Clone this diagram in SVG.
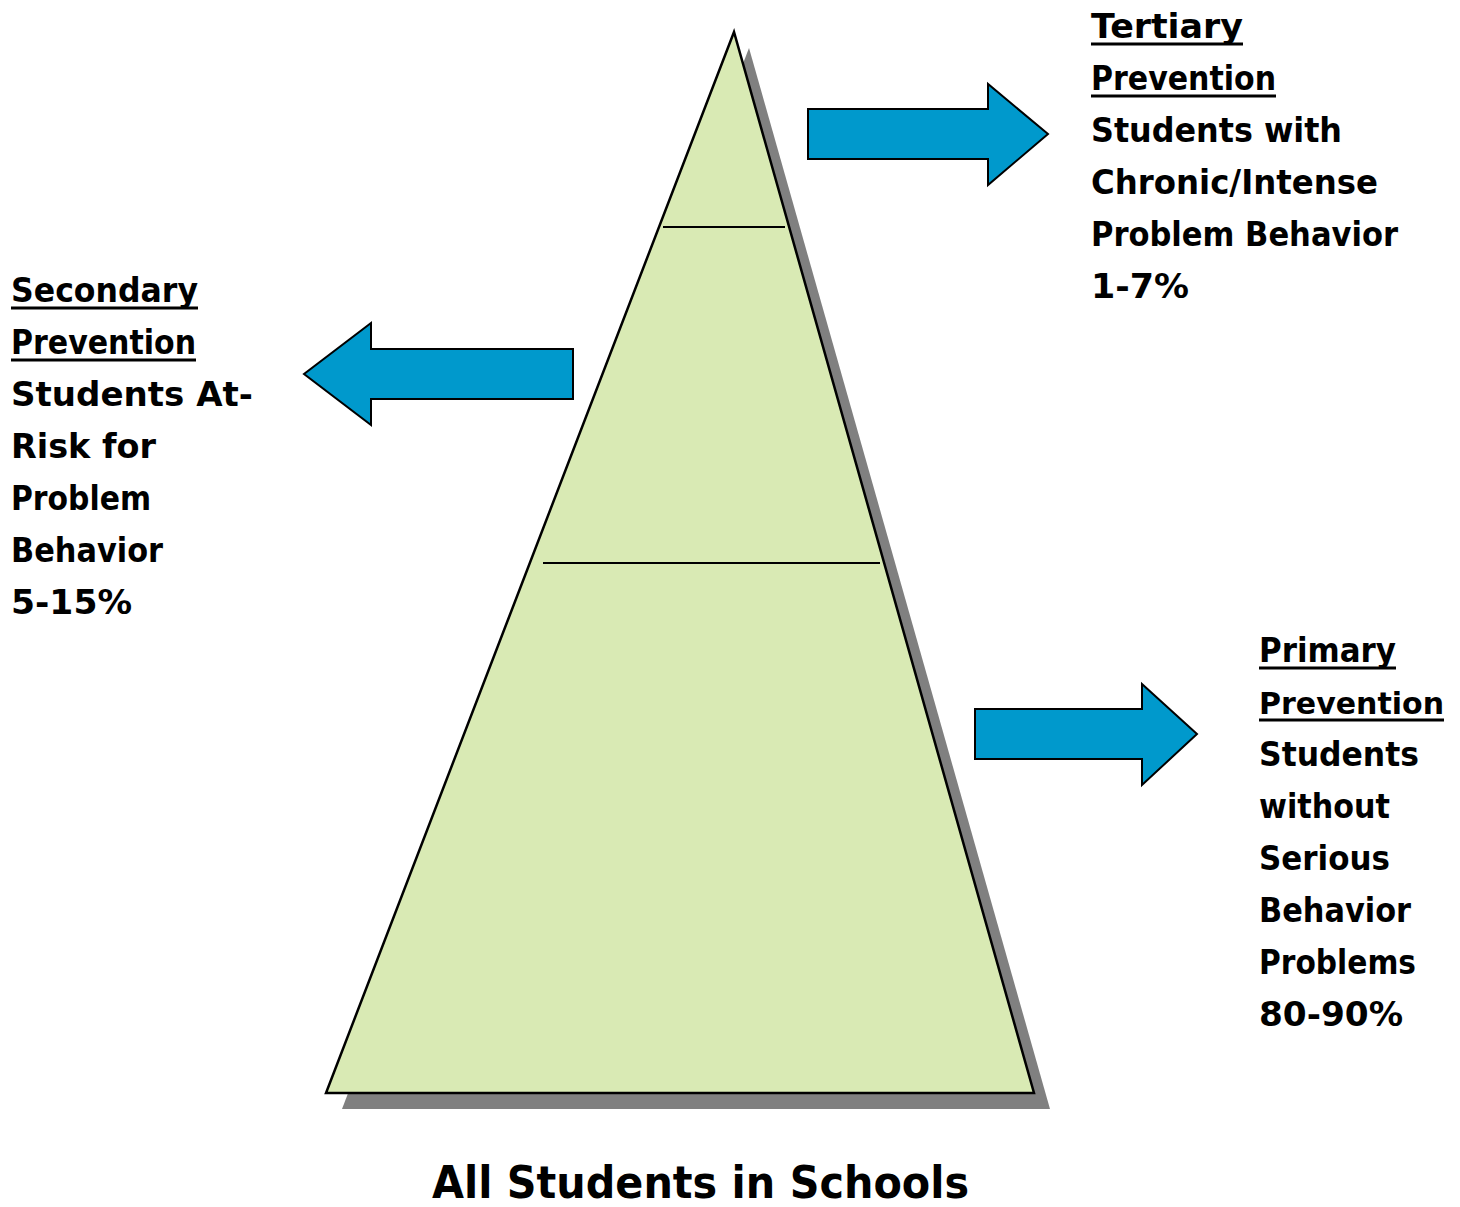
<svg xmlns="http://www.w3.org/2000/svg" width="1460" height="1207" viewBox="0 0 1460 1207">
<style>
.lbl{font-family:"DejaVu Sans","Liberation Sans",sans-serif;font-weight:bold;font-size:34px;fill:#000}
.ul{stroke:#000;stroke-width:3}
.arrow{fill:#0099CC;stroke:#000;stroke-width:2;stroke-linejoin:miter}
.tier{stroke:#000;stroke-width:2}
</style>
<rect width="1460" height="1207" fill="#fff"/>
<g id="pyramid">
<polygon points="749,48 342,1109 1050,1109" fill="#808080"/>
<polygon points="734,32 326,1093 1034,1093" fill="#D9EAB4" stroke="#000" stroke-width="2.5" stroke-linejoin="miter"/>
<line class="tier" x1="663" y1="227" x2="785" y2="227"/>
<line class="tier" x1="543" y1="563" x2="880" y2="563"/>
</g>
<g id="connectors">
<polygon class="arrow" points="808,109 988,109 988,84 1048,134 988,185 988,159 808,159"/>
<polygon class="arrow" points="573,349 371,349 371,323 304,374 371,425 371,399 573,399"/>
<polygon class="arrow" points="975,709 1142,709 1142,684 1197,734 1142,785 1142,759 975,759"/>
</g>
<g id="tertiary">
<text class="lbl" x="1091" y="38" textLength="152" lengthAdjust="spacingAndGlyphs">Tertiary</text>
<line class="ul" x1="1091" y1="44" x2="1243" y2="44"/>
<text class="lbl" x="1091" y="90" textLength="185" lengthAdjust="spacingAndGlyphs">Prevention</text>
<line class="ul" x1="1091" y1="96" x2="1276" y2="96"/>
<text class="lbl" x="1091" y="142" textLength="251" lengthAdjust="spacingAndGlyphs">Students with</text>
<text class="lbl" x="1091" y="194" textLength="287" lengthAdjust="spacingAndGlyphs">Chronic/Intense</text>
<text class="lbl" x="1091" y="246" textLength="307" lengthAdjust="spacingAndGlyphs">Problem Behavior</text>
<text class="lbl" x="1091" y="298" textLength="98" lengthAdjust="spacingAndGlyphs">1-7%</text>
</g>
<g id="secondary">
<text class="lbl" x="11" y="302" textLength="187" lengthAdjust="spacingAndGlyphs">Secondary</text>
<line class="ul" x1="11" y1="308" x2="198" y2="308"/>
<text class="lbl" x="11" y="354" textLength="185" lengthAdjust="spacingAndGlyphs">Prevention</text>
<line class="ul" x1="11" y1="360" x2="196" y2="360"/>
<text class="lbl" x="11" y="406" textLength="242" lengthAdjust="spacingAndGlyphs">Students At-</text>
<text class="lbl" x="11" y="458" textLength="145" lengthAdjust="spacingAndGlyphs">Risk for</text>
<text class="lbl" x="11" y="510" textLength="140" lengthAdjust="spacingAndGlyphs">Problem</text>
<text class="lbl" x="11" y="562" textLength="152" lengthAdjust="spacingAndGlyphs">Behavior</text>
<text class="lbl" x="11" y="614" textLength="121" lengthAdjust="spacingAndGlyphs">5-15%</text>
</g>
<g id="primary">
<text class="lbl" x="1259" y="662" textLength="137" lengthAdjust="spacingAndGlyphs">Primary</text>
<line class="ul" x1="1259" y1="668" x2="1396" y2="668"/>
<text class="lbl" x="1259" y="714" style="font-size:31px" textLength="185" lengthAdjust="spacingAndGlyphs">Prevention</text>
<line class="ul" x1="1259" y1="720" x2="1444" y2="720"/>
<text class="lbl" x="1259" y="766" textLength="160" lengthAdjust="spacingAndGlyphs">Students</text>
<text class="lbl" x="1259" y="818" textLength="131" lengthAdjust="spacingAndGlyphs">without</text>
<text class="lbl" x="1259" y="870" textLength="131" lengthAdjust="spacingAndGlyphs">Serious</text>
<text class="lbl" x="1259" y="922" textLength="152" lengthAdjust="spacingAndGlyphs">Behavior</text>
<text class="lbl" x="1259" y="974" textLength="157" lengthAdjust="spacingAndGlyphs">Problems</text>
<text class="lbl" x="1259" y="1026" textLength="144" lengthAdjust="spacingAndGlyphs">80-90%</text>
</g>
<g id="base-label">
<text class="lbl" x="432" y="1198" style="font-size:44px" textLength="537" lengthAdjust="spacingAndGlyphs">All Students in Schools</text>
</g>
</svg>
